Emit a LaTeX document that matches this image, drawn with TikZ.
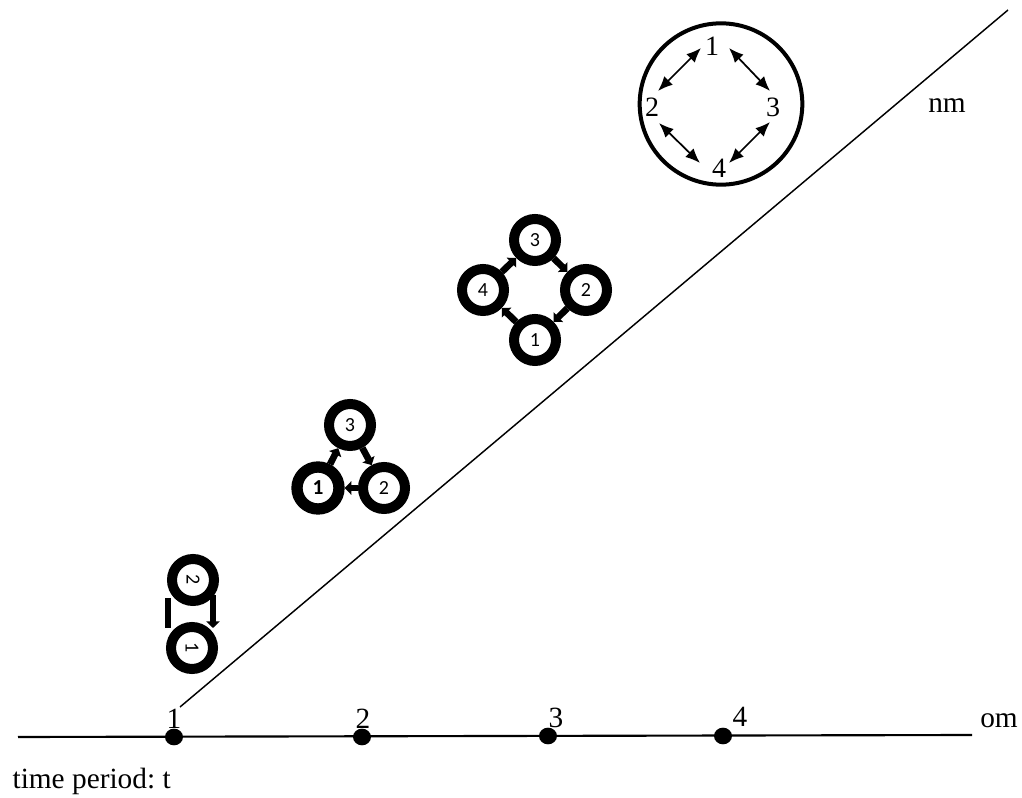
\documentclass[tikz,border=0pt]{standalone}
\usepackage{fontspec}
\setmainfont{Liberation Serif}
\newfontfamily\ringfont{Carlito}
\usetikzlibrary{arrows.meta,shapes.geometric}
\frenchspacing
\begin{document}
\begin{tikzpicture}[x=0.75pt,y=-0.75pt,
  ring/.style={circle,draw,line width=7.5pt,minimum size=31.5pt,inner sep=0pt,font=\ringfont\fontsize{15}{15}\selectfont},
  thick arrow/.style={line width=5pt,-{Triangle[length=5pt,width=10pt]}},
  thin link/.style={line width=1.3pt,{Latex[length=11pt,width=9pt]}-{Latex[length=11pt,width=9pt]}},
  lbl/.style={font=\fontsize{22}{22}\selectfont,inner sep=1pt},
  enum/.style={font=\fontsize{21}{21}\selectfont,inner sep=1pt},
  dot/.style={ellipse,fill,minimum width=13.5pt,minimum height=12.5pt,inner sep=0pt}]
\useasboundingbox (0,0) rectangle (1022,798);
% axes
\coordinate (hl) at (18,737);
\coordinate (hr) at (972,735);
\draw[line width=1.6pt] (hl) -- (hr);
\coordinate (ds) at (180,707);
\coordinate (de) at (1008,10);
\draw[line width=1.1pt] (ds) -- (de);
\node[dot] (t1) at (174,737) {};
\node[dot] (t2) at (362,737) {};
\node[dot] (t3) at (548,736) {};
\node[dot] (t4) at (723,736) {};
\node[lbl] (l1) at (174,719) {1};
\node[lbl] (l2) at (363,719) {2};
\node[lbl] (l3) at (556,718) {3};
\node[lbl] (l4) at (740,717) {4};
\node[lbl] (om) at (999,721) {om};
\node[lbl] (nm) at (947,106) {nm};
\node[lbl,anchor=west] (tp) at (11,781) {time period: t};
% group of four (big ellipse)
\node[draw,ellipse,line width=3pt,minimum width=122pt,minimum height=121pt,inner sep=0pt] (E) at (721,104) {};
\node[enum] (e1) at (712,46) {1};
\node[enum] (e2) at (652,107) {2};
\node[enum] (e3) at (773,107) {3};
\node[enum] (e4) at (719,168) {4};
\coordinate (a12) at (701,48); \coordinate (b12) at (658,91);
\coordinate (a13) at (729,48); \coordinate (b13) at (770,91);
\coordinate (a24) at (659,123); \coordinate (b24) at (700,163);
\coordinate (a34) at (770,122); \coordinate (b34) at (729,163);
\draw[thin link] (a12) -- (b12);
\draw[thin link] (a13) -- (b13);
\draw[thin link] (a24) -- (b24);
\draw[thin link] (a34) -- (b34);
% ring of four
\node[ring] (a3) at (535,240) {3};
\node[ring] (a4) at (483,290) {4};
\node[ring] (a2) at (586,290) {2};
\node[ring] (a1) at (535,340) {1};
\draw[thick arrow] (a4) -- (a3);
\draw[thick arrow] (a3) -- (a2);
\draw[thick arrow] (a2) -- (a1);
\draw[thick arrow] (a1) -- (a4);
% ring of three
\node[ring] (b3) at (350,425) {3};
\node[ring,line width=8.5pt,font=\ringfont\bfseries\fontsize{16}{16}\selectfont] (b1) at (318,488) {1};
\node[ring] (b2) at (384,488) {2};
\draw[thick arrow] (b1) -- (b3);
\draw[thick arrow] (b3) -- (b2);
\draw[thick arrow] (b2) -- (b1);
% ring of two (rotated)
\node[ring,rotate=-90] (c2) at (193,580) {2};
\node[ring,rotate=-90] (c1) at (192,648) {1};
\coordinate (cl1) at (168,628);
\coordinate (cl2) at (168,598);
\coordinate (cr1) at (213,595);
\coordinate (cr2) at (213,628);
\draw[line width=5pt] (cl1) -- (cl2);
\draw[thick arrow] (cr1) -- (cr2);
\end{tikzpicture}
\end{document}
